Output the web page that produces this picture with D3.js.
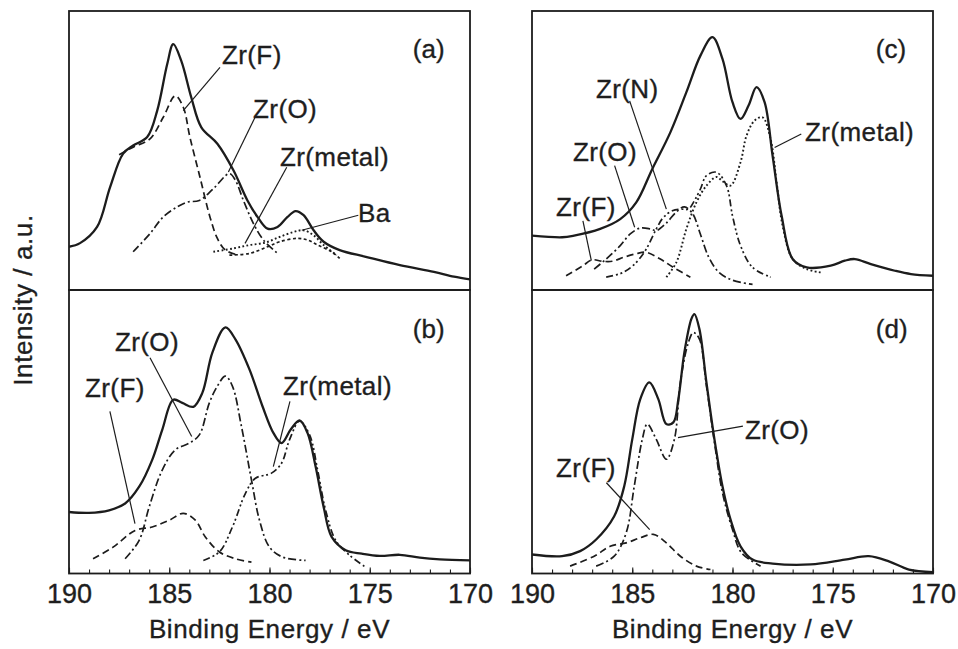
<!DOCTYPE html>
<html>
<head>
<meta charset="utf-8">
<script src="https://cdn.jsdelivr.net/npm/d3@7"></script>
<style>
  body { margin: 0; background: #fff; }
  text { font-family: "Liberation Sans", Arial, Helvetica, sans-serif; fill: #1e1e1e; stroke: #1e1e1e; stroke-width: 0.35px; }
</style>
</head>
<body>
<svg id="chart" width="958" height="649"></svg>
<script>
// x axis (binding energy, eV) - reversed
const energyTicks = [190, 185, 180, 175, 170];
const minorTicks = d3.range(170, 191, 1);

// ---- panel (a) : [energy, intensity (a.u., 0-100 panel scale)]
const envA = [[190.0,15.5],[189.45,16.8],[188.6,22.6],[187.95,36.9],[187.3,48.9],[186.8,51.8],[186.1,54.8],[185.6,64.3],[185.1,81.0],[184.8,88.1],[184.4,82.1],[183.9,69.0],[183.4,58.3],[182.6,52.4],[181.8,42.9],[181.1,32.1],[180.6,26.2],[180.1,22.0],[179.6,22.6],[179.1,26.2],[178.7,28.3],[178.3,26.8],[177.8,21.4],[177.3,17.3],[176.5,14.3],[175.2,11.9],[173.5,8.9],[171.8,6.5],[170.8,4.8],[170.0,3.8]];
const zrFA = [[187.5,48.5],[186.8,51.2],[185.96,54.2],[185.3,61.9],[184.7,69.6],[184.3,65.5],[183.97,54.8],[183.47,40.5],[182.97,26.2],[182.6,18.5],[182.2,14.3],[181.6,12.6]];
const zrOA = [[186.8,13.7],[185.96,20.2],[185.3,26.2],[184.6,29.8],[184.1,31.5],[183.5,32.1],[182.8,36.3],[182.0,41.7],[181.7,39.3],[181.3,32.1],[180.8,23.8],[180.3,17.9],[179.6,13.1]];
const zrMetalA = [[182.8,13.7],[181.8,14.9],[181.0,16.1],[180.2,17.0],[179.5,19.0],[178.8,20.8],[178.3,21.4],[177.8,19.6],[177.3,16.1],[176.65,12.5]];
const baA = [[182.0,12.5],[181.0,13.1],[180.1,15.5],[179.5,17.3],[178.6,18.5],[178.1,17.9],[177.6,16.1],[176.9,13.7],[176.5,11.3]];

// ---- panel (b)
const envB = [[190.0,21.7],[189.0,21.4],[188.0,22.3],[187.2,24.7],[186.5,30.6],[185.85,40.1],[185.35,50.7],[184.8,61.3],[184.35,60.2],[183.8,58.8],[183.35,63.7],[182.85,77.9],[182.2,86.8],[181.7,82.6],[181.0,72.0],[180.35,59.0],[179.8,49.5],[179.4,46.0],[178.95,50.7],[178.5,54.0],[178.1,49.5],[177.7,37.7],[177.3,23.5],[176.9,12.9],[176.2,8.2],[175.4,7.0],[174.5,6.2],[173.5,6.6],[172.5,5.6],[171.5,5.0],[170.0,4.6]];
const zrFB = [[188.8,5.2],[187.8,9.3],[186.7,15.2],[185.85,16.4],[185.0,18.8],[184.3,21.2],[183.7,18.8],[183.2,12.9],[182.5,7.6],[181.7,5.2],[180.9,4.0]];
const zrOB = [[187.2,5.2],[186.5,11.7],[186.0,23.5],[185.35,36.5],[184.7,43.6],[184.0,46.0],[183.5,48.9],[183.0,60.2],[182.6,66.1],[182.2,69.6],[181.85,66.1],[181.4,51.9],[180.9,33.0],[180.5,18.8],[180.0,9.3],[179.35,5.8],[178.2,4.6]];
const zrMetalB = [[183.3,4.6],[182.5,7.6],[181.85,16.4],[181.2,28.3],[180.7,33.6],[179.9,35.4],[179.4,38.9],[179.0,47.2],[178.5,53.7],[178.0,48.9],[177.6,36.5],[177.2,22.3],[176.7,11.7],[176.0,6.4],[175.2,2.2]];

// ---- panel (c)
const envC = [[190.0,19.5],[188.5,18.9],[187.9,19.5],[186.6,21.9],[185.6,25.4],[184.8,31.4],[184.0,43.4],[183.1,56.5],[182.3,70.9],[181.6,84.0],[181.0,90.6],[180.5,82.8],[180.0,67.3],[179.6,61.3],[179.2,66.1],[178.8,72.7],[178.4,67.3],[178.0,48.1],[177.55,26.6],[177.0,11.1],[176.3,8.1],[175.1,8.7],[174.4,10.5],[173.9,11.1],[173.1,9.3],[171.9,6.9],[171.1,5.7],[170.0,5.1]];
const zrFC = [[188.3,5.1],[187.5,8.5],[187.0,10.8],[186.5,10.3],[186.0,10.3],[185.4,11.8],[184.8,13.0],[184.3,13.5],[183.6,11.1],[182.95,8.1],[182.1,4.6]];
const zrOC = [[186.9,7.5],[186.3,11.1],[185.6,15.9],[185.1,20.1],[184.6,22.2],[184.1,21.9],[183.8,21.3],[183.3,24.0],[182.8,28.0],[182.4,29.8],[182.0,27.5],[181.6,20.0],[181.2,12.0],[180.7,6.5],[180.0,3.5],[179.0,2.0]];
const zrNC = [[186.3,4.6],[185.45,6.3],[184.8,9.9],[184.3,14.7],[183.8,21.9],[183.45,26.0],[183.0,28.4],[182.6,29.0],[182.2,29.0],[181.9,32.0],[181.6,36.2],[181.3,41.0],[180.8,42.2],[180.3,37.4],[180.0,26.6],[179.6,15.9],[179.0,8.1],[178.1,4.6]];
const zrMetalC = [[183.3,4.6],[182.8,9.9],[182.3,21.9],[181.8,31.4],[181.3,37.4],[180.8,40.5],[180.5,39.0],[180.1,37.4],[179.6,45.8],[179.3,55.3],[178.9,60.7],[178.5,61.9],[178.1,54.1],[177.8,38.6],[177.5,23.0],[177.0,11.1],[176.3,7.5],[175.6,6.3]];

// ---- panel (d)
const envD = [[190.0,6.7],[188.5,6.1],[187.6,7.9],[186.8,12.0],[185.9,20.2],[185.4,30.8],[185.0,47.3],[184.6,61.5],[184.15,67.4],[183.7,61.5],[183.3,52.7],[182.95,53.3],[182.7,61.5],[182.4,78.0],[182.05,89.8],[181.9,91.5],[181.65,86.2],[181.3,67.4],[180.9,47.3],[180.5,30.8],[180.1,19.1],[179.6,9.6],[179.0,4.9],[178.0,3.5],[176.1,3.2],[174.4,4.9],[173.2,6.1],[172.2,4.3],[171.2,1.4],[170.0,0.5]];
const zrOD = [[186.8,2.6],[185.9,6.1],[185.3,14.4],[184.9,30.8],[184.5,47.3],[184.25,52.7],[183.8,47.3],[183.3,40.3],[182.9,47.3],[182.6,67.4],[182.2,81.5],[181.95,85.0],[181.65,82.7],[181.3,66.2],[180.9,46.2],[180.5,28.5],[180.0,15.5],[179.55,7.3],[178.6,2.6]];
const zrFD = [[188.1,2.6],[186.9,6.1],[186.1,9.6],[185.3,10.8],[184.6,12.6],[183.95,13.8],[183.3,10.8],[182.6,6.1],[181.8,2.6],[181.1,1.4]];

// labels: [text, textE, textI, leaderFromE, leaderFromI, leaderToE, leaderToI]
const labelsA = [["Zr(F)",182.37,81.1,182.47,79.8,184.3,64.3],["Zr(O)",180.82,61.8,180.72,61.9,182.05,42.3],["Zr(metal)",179.48,44.6,179.14,44.0,181.22,16.7],["Ba",175.59,24.3,175.57,26.8,178.39,21.4]];
const labelsB = [["Zr(O)",187.71,78.4,185.96,76.1,183.88,48.3],["Zr(F)",189.2,62.1,187.96,57.2,186.71,17.6],["Zr(metal)",179.33,63.1,178.98,60.7,179.81,37.7]];
const labelsC = [["Zr(N)",186.81,68.8,185.13,67.8,183.3,29.0],["Zr(O)",187.96,46.2,185.88,44.6,184.88,22.5],["Zr(F)",188.8,26.5,187.46,24.8,187.04,10.5],["Zr(metal)",176.38,53.4,176.57,55.9,177.9,51.1]];
const labelsD = [["Zr(O)",179.38,47.3,179.48,52.0,182.72,47.9],["Zr(F)",188.8,33.9,186.29,32.0,184.13,15.5]];

const tags = ["(a)", "(b)", "(c)", "(d)"];

const width = 958, height = 649;
const svg = d3.select('#chart');
const ink = '#1c1c1c';

const cols = [[69, 470], [532, 933]];
const rows = [[11, 290], [290, 573.5]];

const styles = {
    solid: { w: 2.3, dash: null },
    dash: { w: 1.7, dash: '7,4' },
    dashdot: { w: 1.7, dash: '8,3,2,3' },
    dashdot2: { w: 1.7, dash: '7,3,2,2.5,2,3' },
    dot: { w: 1.9, dash: '1.8,2.4' },
    dotdash: { w: 1.7, dash: '3,2.5' }
};

const panels = [
    { tag: tags[0], col: 0, row: 0, labels: labelsA,
      curves: [[envA, 'solid'], [zrFA, 'dash'], [zrOA, 'dashdot'], [zrMetalA, 'dot'], [baA, 'dotdash']] },
    { tag: tags[1], col: 0, row: 1, labels: labelsB,
      curves: [[envB, 'solid'], [zrFB, 'dash'], [zrOB, 'dashdot'], [zrMetalB, 'dashdot2']] },
    { tag: tags[2], col: 1, row: 0, labels: labelsC,
      curves: [[envC, 'solid'], [zrFC, 'dash'], [zrOC, 'dashdot'], [zrNC, 'dashdot2'], [zrMetalC, 'dot']] },
    { tag: tags[3], col: 1, row: 1, labels: labelsD,
      curves: [[envD, 'solid'], [zrFD, 'dash'], [zrOD, 'dashdot']] }
];

panels.forEach((p, i) => {
    const x = d3.scaleLinear().domain([190, 170]).range(cols[p.col]);
    const y = d3.scaleLinear().domain([0, 100]).range([rows[p.row][1], rows[p.row][0]]);
    const g = svg.append('g');

    g.append('clipPath').attr('id', 'clip' + i)
        .append('rect')
        .attr('x', x(190)).attr('y', y(100))
        .attr('width', x(170) - x(190)).attr('height', y(0) - y(100));

    const line = d3.line()
        .x(d => x(d[0]))
        .y(d => y(d[1]))
        .curve(d3.curveCatmullRom.alpha(0.5));

    // components first, envelope last
    p.curves.slice().reverse().forEach(c => {
        const st = styles[c[1]];
        g.append('path')
            .datum(c[0])
            .attr('clip-path', 'url(#clip' + i + ')')
            .attr('d', line)
            .attr('fill', 'none')
            .attr('stroke', ink)
            .attr('stroke-width', st.w)
            .attr('stroke-dasharray', st.dash)
            .attr('stroke-linejoin', 'round');
    });

    // leaders + labels
    p.labels.forEach(l => {
        g.append('line')
            .attr('x1', x(l[3])).attr('y1', y(l[4]))
            .attr('x2', x(l[5])).attr('y2', y(l[6]))
            .attr('stroke', ink).attr('stroke-width', 1.2);
        g.append('text')
            .attr('x', x(l[1])).attr('y', y(l[2]))
            .style('font-size', '26px')
            .style('letter-spacing', '0.4px')
            .text(l[0]);
    });

    g.append('text')
        .attr('x', x(172.85)).attr('y', y(83))
        .style('font-size', '26px')
        .text(p.tag);

    // frame
    g.append('rect')
        .attr('x', x(190)).attr('y', y(100))
        .attr('width', x(170) - x(190)).attr('height', y(0) - y(100))
        .attr('fill', 'none').attr('stroke', ink).attr('stroke-width', 1.8);

    if (p.row === 1) {
        const axMinor = d3.axisBottom(x).tickValues(minorTicks).tickSize(-4).tickFormat('');
        const axMajor = d3.axisBottom(x).tickValues(energyTicks).tickSize(-6).tickPadding(10).tickFormat(d3.format('d'));
        const gm = g.append('g').attr('transform', `translate(0,${y(0)})`).call(axMinor);
        const gM = g.append('g').attr('transform', `translate(0,${y(0)})`).call(axMajor);
        [gm, gM].forEach(a => {
            a.select('.domain').remove();
            a.selectAll('.tick line').attr('stroke', ink).attr('stroke-width', 1.1);
        });
        gM.selectAll('.tick text')
            .style('font-size', '27px')
            .style('font-family', '"Liberation Sans", Arial, sans-serif')
            .attr('fill', ink);

        g.append('text')
            .attr('x', (cols[p.col][0] + cols[p.col][1]) / 2)
            .attr('y', 638)
            .attr('text-anchor', 'middle')
            .style('font-size', '26px')
            .style('letter-spacing', '0.6px')
            .text('Binding Energy / eV');
    }
});

svg.append('text')
    .attr('transform', 'translate(32,300) rotate(-90)')
    .attr('text-anchor', 'middle')
    .style('font-size', '26px')
    .style('letter-spacing', '0.6px')
    .text('Intensity / a.u.');
</script>
</body>
</html>
